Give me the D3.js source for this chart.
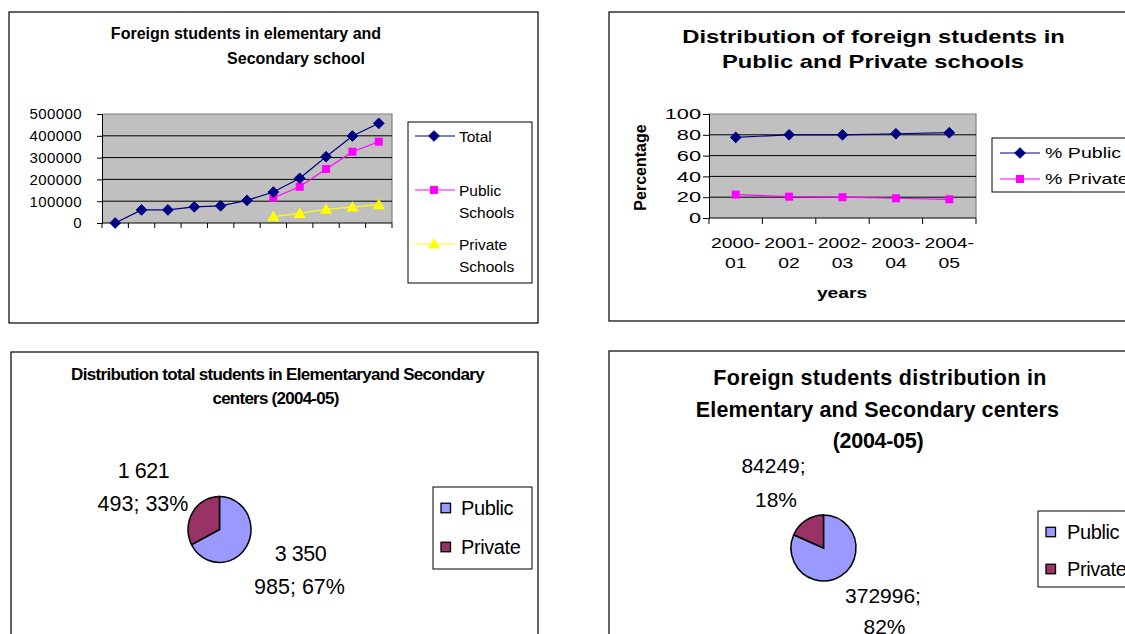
<!DOCTYPE html>
<html><head><meta charset="utf-8">
<script src="https://cdn.jsdelivr.net/npm/d3@7"></script>
<style>
body{margin:0;background:#fff;}
svg{font-family:"Liberation Sans",Arial,sans-serif;}
</style></head>
<body><svg id="c" width="1125" height="634"></svg>
<script>
// ---- Data ----
const years11 = ["1994-95","1995-96","1996-97","1997-98","1998-99","1999-00","2000-01","2001-02","2002-03","2003-04","2004-05"];
const totalStudents = [0,60000,60000,74000,79000,104000,142000,205000,304000,399000,457245];
const publicSchools = [null,null,null,null,null,null,116000,166000,248000,327000,372996];
const privateSchools = [null,null,null,null,null,null,29000,44000,63000,73000,84249];
const yTicks1 = [0,100000,200000,300000,400000,500000];

const years5 = ["2000-01","2001-02","2002-03","2003-04","2004-05"];
const pctPublic = [77.5,80,80,81,82];
const pctPrivate = [22.5,20.5,20,19,18];
const yTicks2 = [0,20,40,60,80,100];

const pieCats = ["Public","Private"];
const totalPie = [3350985,1621493];
const totalPieLabels = [["3 350","985; 67%"],["1 621","493; 33%"]];
const foreignPie = [372996,84249];
const foreignPieLabels = [["372996;","82%"],["84249;","18%"]];

const svg = d3.select("#c");
const C = {navy:"#000080", mag:"#FF00FF", yel:"#FFFF00", bg:"#C0C0C0", pub:"#9999FF", pri:"#993366"};

function box(x,y,w,h){
  svg.append("rect").attr("x",x).attr("y",y).attr("width",w).attr("height",h)
    .attr("fill","#fff").attr("stroke","#000").attr("stroke-width",1.2);
}
function text(x,y,s,opt={}){
  const sx = opt.sx||1;
  const t = svg.append("text").attr("x",0).attr("y",0).text(s)
    .attr("font-size",opt.size||12).attr("font-weight",opt.bold?"bold":"normal")
    .attr("text-anchor",opt.anchor||"middle").attr("dominant-baseline","central").attr("fill","#000")
    .attr("transform",`translate(${x},${y})${opt.rot?` rotate(${opt.rot})`:""} scale(${sx},1)`);
  if(opt.ls!==undefined) t.attr("letter-spacing",opt.ls);
  return t;
}
function marker(g,type,x,y,color,sz){
  if(type==="diamond"){
    g.append("path").attr("d",d3.symbol(d3.symbolDiamond2,sz*sz*0.9)()).attr("transform",`translate(${x},${y})`).attr("fill",color).attr("stroke",color);
  } else if(type==="square"){
    g.append("rect").attr("x",x-sz/2).attr("y",y-sz/2).attr("width",sz).attr("height",sz).attr("fill",color);
  } else {
    g.append("path").attr("d",d3.symbol(d3.symbolTriangle,sz*sz*0.8)()).attr("transform",`translate(${x},${y+1})`).attr("fill",color);
  }
}

// ---- Chart 1: Foreign students line chart ----
box(9,12,529,311);
text(246,33,"Foreign students in elementary and",{bold:true,size:16});
text(296,58,"Secondary school",{bold:true,size:16});
{
  const x = d3.scaleBand().domain(years11).range([102,392]);
  const y = d3.scaleLinear().domain([0,500000]).range([223,114]);
  const g = svg.append("g");
  g.append("rect").attr("x",102).attr("y",114).attr("width",290).attr("height",109).attr("fill",C.bg);
  g.append("path").attr("d","M102,114H392V223").attr("fill","none").attr("stroke","#808080").attr("stroke-width",1.2);
  yTicks1.slice(1,-1).forEach(t=>g.append("line").attr("x1",102).attr("x2",392).attr("y1",y(t)).attr("y2",y(t)).attr("stroke","#000"));
  g.append("g").attr("transform","translate(102,0)").call(d3.axisLeft(y).tickValues(yTicks1).tickSize(5).tickFormat(d3.format("d")))
    .call(a=>{a.select(".domain").attr("stroke","#000");a.selectAll("line").attr("stroke","#000");
      a.selectAll("text").attr("font-size",15).attr("font-family","Liberation Sans, Arial").attr("x",-20).attr("letter-spacing",0.4).attr("fill","#000");});
  const xb = d3.range(years11.length+1).map(i=>102+i*x.step());
  g.append("line").attr("x1",102).attr("x2",392).attr("y1",223).attr("y2",223).attr("stroke","#000");
  xb.forEach(v=>g.append("line").attr("x1",v).attr("x2",v).attr("y1",223).attr("y2",228).attr("stroke","#000"));
  const cx = d=>x(d)+x.bandwidth()/2;
  const series = [
    {v:privateSchools,c:C.yel,m:"tri"},
    {v:publicSchools,c:C.mag,m:"square"},
    {v:totalStudents,c:C.navy,m:"diamond"}
  ];
  series.forEach(s=>{
    const pts = years11.map((d,i)=>[d,s.v[i]]).filter(p=>p[1]!==null);
    g.append("path").attr("d",d3.line().x(p=>cx(p[0])).y(p=>y(p[1]))(pts)).attr("fill","none").attr("stroke",s.c).attr("stroke-width",1.2);
    pts.forEach(p=>marker(g,s.m,cx(p[0]),y(p[1]),s.c,s.m==="square"?8:9));
  });
  svg.append("rect").attr("x",408).attr("y",122).attr("width",124).attr("height",161).attr("fill","#fff").attr("stroke","#000");
  const leg = [{n:["Total"],c:C.navy,m:"diamond",y:136},{n:["Public","Schools"],c:C.mag,m:"square",y:190},{n:["Private","Schools"],c:C.yel,m:"tri",y:244}];
  leg.forEach(l=>{
    svg.append("line").attr("x1",415).attr("x2",455).attr("y1",l.y).attr("y2",l.y).attr("stroke",l.c).attr("stroke-width",1.2);
    marker(svg,l.m,434,l.y,l.c,l.m==="square"?8:9);
    l.n.forEach((s,i)=>text(459,l.y+i*22,s,{anchor:"start",size:15.5}));
  });
}

// ---- Chart 2: Percentage line chart ----
box(609,12,530,309);
text(873.5,37,"Distribution of foreign students  in",{bold:true,size:19,sx:1.25});
text(873,62,"Public and Private schools",{bold:true,size:19,sx:1.25});
{
  const x = d3.scaleBand().domain(years5).range([709,976]);
  const y = d3.scaleLinear().domain([0,100]).range([218,114]);
  const g = svg.append("g");
  g.append("rect").attr("x",709).attr("y",114).attr("width",267).attr("height",104).attr("fill",C.bg);
  g.append("path").attr("d","M709,114H976V218").attr("fill","none").attr("stroke","#808080").attr("stroke-width",1.2);
  yTicks2.slice(1,-1).forEach(t=>g.append("line").attr("x1",709).attr("x2",976).attr("y1",y(t)).attr("y2",y(t)).attr("stroke","#000"));
  const sxT = 1.5;
  g.append("g").attr("transform","translate(709,0)").call(d3.axisLeft(y).tickValues(yTicks2).tickSize(6))
    .call(a=>{a.select(".domain").attr("stroke","#000");a.selectAll("line").attr("stroke","#000");
      a.selectAll("text").attr("font-size",14.5).attr("font-family","Liberation Sans, Arial").attr("x",-8/sxT)
        .attr("transform",`scale(${sxT},1)`).attr("fill","#000");});
  g.append("line").attr("x1",709).attr("x2",976).attr("y1",218).attr("y2",218).attr("stroke","#000");
  d3.range(years5.length+1).map(i=>709+i*x.step()).forEach(v=>g.append("line").attr("x1",v).attr("x2",v).attr("y1",218).attr("y2",224).attr("stroke","#000"));
  const cx = d=>x(d)+x.bandwidth()/2;
  years5.forEach(d=>{
    const [a,b] = d.split("-");
    text(cx(d),243,a+"-",{size:15.5,sx:1.25});
    text(cx(d),263,b,{size:15.5,sx:1.25});
  });
  text(842,293,"years",{bold:true,size:15,sx:1.28});
  text(640,167.5,"Percentage",{bold:true,size:16,rot:-90});
  [{v:pctPrivate,c:C.mag,m:"square"},{v:pctPublic,c:C.navy,m:"diamond"}].forEach(s=>{
    g.append("path").attr("d",d3.line().x((v,i)=>cx(years5[i])).y(v=>y(v))(s.v)).attr("fill","none").attr("stroke",s.c).attr("stroke-width",1.2);
    s.v.forEach((v,i)=>marker(g,s.m,cx(years5[i]),y(v),s.c,s.m==="square"?8:9));
  });
  svg.append("rect").attr("x",992).attr("y",138).attr("width",150).attr("height",54).attr("fill","#fff").attr("stroke","#000");
  [{n:"% Public",c:C.navy,m:"diamond",y:153},{n:"% Private",c:C.mag,m:"square",y:179}].forEach(l=>{
    svg.append("line").attr("x1",1000).attr("x2",1040).attr("y1",l.y).attr("y2",l.y).attr("stroke",l.c).attr("stroke-width",1.2);
    marker(svg,l.m,1020,l.y,l.c,l.m==="square"?8:9);
    text(1045,l.y,l.n,{anchor:"start",size:14.5,sx:1.35});
  });
}

// ---- Pie helper ----
function pie(cxp,cyp,rx,ry,vals){
  const arcs = d3.pie().sort(null)(vals);
  const arc = d3.arc().innerRadius(0).outerRadius(rx);
  const g = svg.append("g").attr("transform",`translate(${cxp},${cyp}) scale(1,${ry/rx})`);
  g.selectAll("path").data(arcs).enter().append("path").attr("d",arc)
    .attr("fill",(d,i)=>[C.pub,C.pri][i]).attr("stroke","#000").attr("stroke-width",1.5).attr("vector-effect","non-scaling-stroke");
}
function pieLegend(x,y,w,h,sqx,tx,ys,size,sq){
  svg.append("rect").attr("x",x).attr("y",y).attr("width",w).attr("height",h).attr("fill","#fff").attr("stroke","#000");
  pieCats.forEach((c,i)=>{
    svg.append("rect").attr("x",sqx).attr("y",ys[i]-sq/2).attr("width",sq).attr("height",sq).attr("fill",[C.pub,C.pri][i]).attr("stroke","#000").attr("stroke-width",1.3);
    text(tx,ys[i],c,{anchor:"start",size:size,ls:-0.4});
  });
}

// ---- Chart 3: Total students pie ----
box(11,352,527,300);
text(277.5,374,"Distribution total students in Elementaryand Secondary",{bold:true,size:17,ls:-0.68});
text(275.5,398,"centers  (2004-05)",{bold:true,size:17,ls:-0.75});
pie(219.5,529.5,31.5,33,totalPie);
text(143.5,471,totalPieLabels[1][0],{size:21.5,ls:-0.5});
text(143,504,totalPieLabels[1][1],{size:21.5,ls:0});
text(300.5,554,totalPieLabels[0][0],{size:21.5,ls:-0.5});
text(299.5,587,totalPieLabels[0][1],{size:21.5,ls:0});
pieLegend(433,487,99,82,441,461,[508,547],20,9.5);

// ---- Chart 4: Foreign students pie ----
box(609,351,530,300);
text(880,378,"Foreign students distribution in",{bold:true,size:21.5,ls:0.3});
text(877.5,410,"Elementary and Secondary centers",{bold:true,size:21.5,ls:0.15});
text(878,441,"(2004-05)",{bold:true,size:21.5,ls:-0.3});
pie(823.5,548,32.5,33,foreignPie);
text(773.5,465,foreignPieLabels[1][0],{size:21});
text(776,499,foreignPieLabels[1][1],{size:21});
text(883,595,foreignPieLabels[0][0],{size:21});
text(884.5,626,foreignPieLabels[0][1],{size:21});
pieLegend(1038,511,120,76,1046,1067,[532,569],20,9.5);
</script></body></html>
